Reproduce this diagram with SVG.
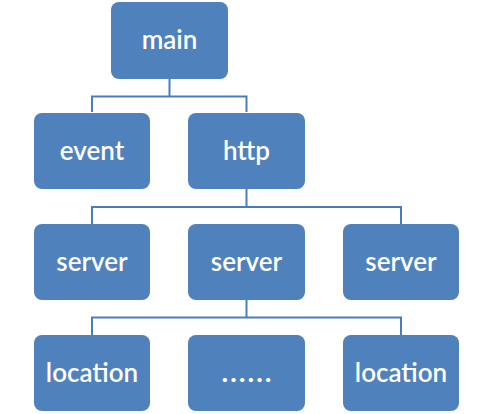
<svg xmlns="http://www.w3.org/2000/svg" width="493" height="414" viewBox="0 0 493 414">
<style>
.box{fill:#4F81BD;}
.lbl{fill:#fff;font-family:Lato,"Open Sans",sans-serif;font-size:26px;font-weight:600;text-anchor:middle;}
.dots{font-family:"Noto Sans CJK SC",Lato,sans-serif;font-size:26px;}
.con{fill:none;stroke:#4A7EBB;stroke-width:2;}
</style>
<rect width="493" height="414" fill="#fff"/>
<g id="connectors">
<path class="con" d="M169.5 78 V96.5 M92 112 V96.5 H246.5 V112"/>
<path class="con" d="M246.5 189 V207 M92 224 V207 H401 V224"/>
<path class="con" d="M246.5 300 V317.5 M92 335 V317.5 H401 V335"/>
</g>
<g id="main"><rect class="box" x="111" y="2" width="117" height="77" rx="8"/><text class="lbl" x="169.5" y="49">main</text></g>
<g id="event"><rect class="box" x="34" y="113" width="116" height="76" rx="8"/><text class="lbl" x="92" y="160">event</text></g>
<g id="http"><rect class="box" x="188" y="113" width="117" height="76" rx="8"/><text class="lbl" x="246.5" y="160">http</text></g>
<g id="server1"><rect class="box" x="34" y="224" width="116" height="76" rx="8"/><text class="lbl" x="92" y="271">server</text></g>
<g id="server2"><rect class="box" x="188" y="224" width="117" height="76" rx="8"/><text class="lbl" x="246.5" y="271">server</text></g>
<g id="server3"><rect class="box" x="343" y="224" width="116" height="76" rx="8"/><text class="lbl" x="401" y="271">server</text></g>
<g id="location1"><rect class="box" x="34" y="335" width="116" height="76" rx="8"/><text class="lbl" x="92" y="382">location</text></g>
<g id="ellipsis"><rect class="box" x="188" y="335" width="117" height="76" rx="8"/><text class="lbl dots" x="246.5" y="390">……</text></g>
<g id="location2"><rect class="box" x="343" y="335" width="116" height="76" rx="8"/><text class="lbl" x="401" y="382">location</text></g>
</svg>
